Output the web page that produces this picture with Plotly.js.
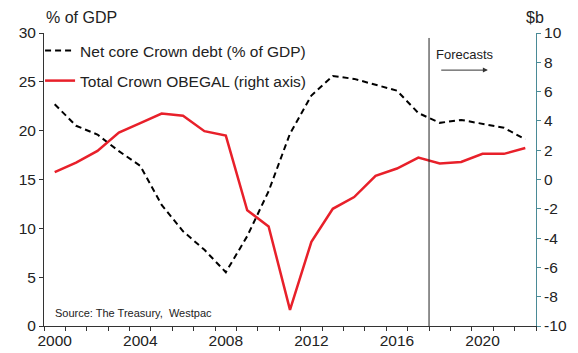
<!DOCTYPE html>
<html>
<head>
<meta charset="utf-8">
<script src="https://cdn.plot.ly/plotly-3.0.1.min.js"></script>
<style>html,body{margin:0;padding:0;background:#fff;}#chart{width:578px;height:353px;}</style>
</head>
<body>
<div id="chart"></div>
<script>
const years = [2000,2001,2002,2003,2004,2005,2006,2007,2008,2009,2010,2011,2012,2013,2014,2015,2016,2017,2018,2019,2020,2021,2022];
const netCoreDebt = [22.7,20.5,19.6,17.9,16.4,12.4,9.7,7.8,5.5,9.2,13.8,19.7,23.6,25.6,25.3,24.7,24.1,21.8,20.8,21.1,20.7,20.3,19.1];
const obegal = [0.5,1.15,1.95,3.2,3.85,4.5,4.35,3.3,3.0,-2.1,-3.2,-8.9,-4.25,-2.0,-1.2,0.25,0.75,1.5,1.1,1.2,1.75,1.75,2.15];
const xTickLabels = ['2000','2004','2008','2012','2016','2020'];
const xTickVals = [2000,2004,2008,2012,2016,2020];
const y2TickVals = [-10,-8,-6,-4,-2,0,2,4,6,8,10];
const y2TickLabels = ['-10','-8','-6','-4','-2','0','2','4','6','8','10'];
const forecastStart = 2017.5;

const font = 'Liberation Sans, Arial, sans-serif';
const yearBounds = years.map(y => y - 0.5).concat([years[years.length-1] + 0.5]);

const traces = [
  {x: years, y: netCoreDebt, type: 'scatter', mode: 'lines', name: 'Net core Crown debt (% of GDP)',
   line: {color: '#000', width: 2, dash: '6px,4px'}, yaxis: 'y', legendgroup: 'a'},
  {x: years, y: obegal, type: 'scatter', mode: 'lines', name: 'Total Crown OBEGAL (right axis)',
   line: {color: '#e8202a', width: 2.5}, yaxis: 'y2', legendgroup: 'b'}
];

const layout = {
  width: 578, height: 353,
  margin: {l: 44, r: 42, t: 33, b: 27},
  paper_bgcolor: '#fff', plot_bgcolor: '#fff',
  font: {family: font, size: 15.5, color: '#222'},
  showlegend: true,
  legend: {x: -0.008, y: 0.997, xanchor: 'left', yanchor: 'top', bgcolor: 'rgba(0,0,0,0)',
           font: {family: font, size: 15.5, color: '#222'}, traceorder: 'grouped', tracegroupgap: 7},
  xaxis: {
    range: [1999.5, 2022.5], showgrid: false, zeroline: false,
    showline: true, linecolor: '#333', linewidth: 1,
    tickmode: 'array', tickvals: xTickVals, ticktext: xTickLabels, ticks: '',
    tickfont: {family: font, size: 15.5, color: '#222'},
    minor: {tickmode: 'array', tickvals: yearBounds, ticks: 'outside', ticklen: 4, tickcolor: '#333', showgrid: false}
  },
  yaxis: {
    range: [0, 30], dtick: 5, tick0: 0, showgrid: false, zeroline: false,
    showline: true, linecolor: '#333', linewidth: 1,
    ticks: 'outside', ticklen: 4, tickcolor: '#333',
    tickfont: {family: font, size: 15.5, color: '#222'}
  },
  yaxis2: {
    range: [-10, 10], tickmode: 'array', tickvals: y2TickVals, ticktext: y2TickLabels,
    overlaying: 'y', side: 'right',
    showgrid: false, zeroline: false,
    showline: true, linecolor: '#4a8a96', linewidth: 1,
    ticks: 'outside', ticklen: 4, tickcolor: '#4a8a96',
    tickfont: {family: font, size: 15.5, color: '#222'}
  },
  shapes: [
    {type: 'line', xref: 'x', yref: 'paper', x0: forecastStart, x1: forecastStart, y0: 0, y1: 0.983,
     line: {color: '#222', width: 1}}
  ],
  annotations: [
    {text: '% of GDP', xref: 'paper', yref: 'paper', x: 0, y: 1, xanchor: 'left', yanchor: 'bottom',
     yshift: 5, showarrow: false, font: {family: font, size: 16, color: '#222'}},
    {text: '$b', xref: 'paper', yref: 'paper', x: 1, y: 1, xanchor: 'right', yanchor: 'bottom',
     yshift: 5, xshift: 10, showarrow: false, font: {family: font, size: 16, color: '#222'}},
    {text: 'Forecasts', xref: 'x', yref: 'paper', x: 2017.75, y: 0.96, xanchor: 'left', yanchor: 'top',
     showarrow: false, font: {family: font, size: 13, color: '#222'}},
    {text: '', xref: 'x', yref: 'y', x: 2020.25, y: 26.2, ax: 2018.0, ay: 26.2, axref: 'x', ayref: 'y',
     showarrow: true, arrowhead: 2, arrowsize: 1, arrowwidth: 1, arrowcolor: '#333'},
    {text: 'Source: The Treasury,  Westpac', xref: 'paper', yref: 'paper', x: 0.018, y: 0.045,
     xanchor: 'left', yanchor: 'middle', showarrow: false, font: {family: font, size: 11, color: '#222'}}
  ]
};

Plotly.newPlot('chart', traces, layout, {displayModeBar: false, staticPlot: true});
</script>
</body>
</html>
